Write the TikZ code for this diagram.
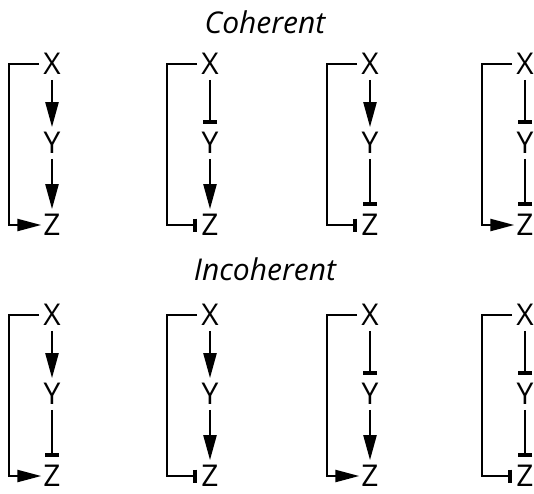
\documentclass[tikz,border=0pt]{standalone}
\usepackage{fontspec}
\setmainfont{Open Sans}
\usetikzlibrary{arrows.meta}
\tikzset{
  lbl/.style={inner sep=0pt, font=\fontsize{30}{33}\selectfont},
  ttl/.style={inner sep=0pt, font=\fontsize{30}{33}\selectfont\itshape},
  act/.style={-{Triangle[length=25pt,width=13pt]}, shorten <=4pt, shorten >=4pt},
  inh/.style={-{Bar[width=14pt,line width=4pt]}, shorten <=4pt, shorten >=7pt},
  bact/.style={-{Triangle[length=24pt,width=12pt]}, shorten <=3pt, shorten >=1pt},
  binh/.style={-{Bar[width=13pt,line width=4pt]}, shorten <=3pt, shorten >=3pt},
}
\begin{document}
\begin{tikzpicture}[x=1pt,y=-1pt,line width=2.3pt]
\useasboundingbox (0,0) rectangle (534,493);
\node[ttl] (coh) at (265,22) {Coherent};
\node[ttl] (inc) at (265,269) {Incoherent};
\foreach \n/\cx/\ry/\a/\b/\c in {
  a/52/0/act/act/bact, b/210/0/inh/act/binh, c/370/0/act/inh/binh, d/525/0/inh/inh/bact,
  e/52/251/act/inh/bact, f/210/251/act/act/binh, g/370/251/inh/act/bact, h/525/251/inh/inh/binh}{
  \node[lbl] (X\n) at (\cx,64+\ry) {X};
  \node[lbl] (Y\n) at (\cx,143+\ry) {Y};
  \node[lbl] (Z\n) at (\cx,225+\ry) {Z};
  \draw[\a] (X\n) -- (Y\n);
  \draw[\b] (Y\n) -- (Z\n);
  \draw[\c] (X\n.west) -- ++(-33,0) |- (Z\n.west);
}
\end{tikzpicture}
\end{document}
